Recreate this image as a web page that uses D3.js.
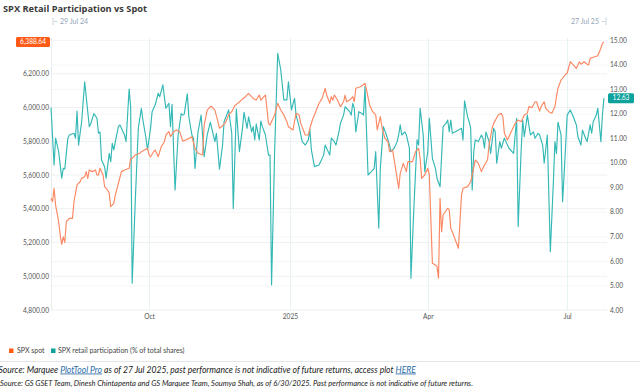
<!DOCTYPE html>
<html><head><meta charset="utf-8">
<script src="https://cdn.jsdelivr.net/npm/d3@7"></script>
<style>body{margin:0;background:#fff}svg{display:block}</style>
</head><body><svg id="c" width="640" height="391"></svg>
<script>
const spotDates = ["2024-07-29","2024-07-30","2024-07-31","2024-08-01","2024-08-03","2024-08-04","2024-08-05","2024-08-06","2024-08-07","2024-08-08","2024-08-10","2024-08-12","2024-08-13","2024-08-15","2024-08-17","2024-08-18","2024-08-20","2024-08-21","2024-08-22","2024-08-23","2024-08-25","2024-08-27","2024-08-28","2024-08-29","2024-08-30","2024-09-01","2024-09-02","2024-09-04","2024-09-05","2024-09-06","2024-09-08","2024-09-09","2024-09-11","2024-09-13","2024-09-15","2024-09-18","2024-09-19","2024-09-20","2024-09-22","2024-09-25","2024-09-26","2024-09-28","2024-09-30","2024-10-01","2024-10-02","2024-10-04","2024-10-05","2024-10-06","2024-10-07","2024-10-09","2024-10-11","2024-10-12","2024-10-14","2024-10-15","2024-10-17","2024-10-19","2024-10-21","2024-10-23","2024-10-25","2024-10-27","2024-10-29","2024-10-31","2024-11-02","2024-11-05","2024-11-06","2024-11-08","2024-11-10","2024-11-11","2024-11-13","2024-11-15","2024-11-16","2024-11-18","2024-11-20","2024-11-22","2024-11-24","2024-11-26","2024-11-28","2024-12-01","2024-12-03","2024-12-05","2024-12-06","2024-12-08","2024-12-10","2024-12-12","2024-12-13","2024-12-15","2024-12-16","2024-12-18","2024-12-19","2024-12-21","2024-12-22","2024-12-24","2024-12-26","2024-12-28","2024-12-30","2024-12-31","2025-01-03","2025-01-05","2025-01-07","2025-01-08","2025-01-11","2025-01-13","2025-01-14","2025-01-16","2025-01-17","2025-01-20","2025-01-22","2025-01-24","2025-01-25","2025-01-27","2025-01-28","2025-01-29","2025-01-30","2025-02-01","2025-02-03","2025-02-05","2025-02-06","2025-02-07","2025-02-09","2025-02-11","2025-02-12","2025-02-13","2025-02-16","2025-02-17","2025-02-19","2025-02-20","2025-02-22","2025-02-24","2025-02-26","2025-02-27","2025-03-01","2025-03-02","2025-03-04","2025-03-06","2025-03-07","2025-03-09","2025-03-12","2025-03-13","2025-03-14","2025-03-16","2025-03-18","2025-03-19","2025-03-22","2025-03-24","2025-03-26","2025-03-27","2025-03-28","2025-03-30","2025-04-01","2025-04-02","2025-04-04","2025-04-06","2025-04-07","2025-04-08","2025-04-09","2025-04-10","2025-04-11","2025-04-14","2025-04-15","2025-04-16","2025-04-17","2025-04-21","2025-04-22","2025-04-23","2025-04-24","2025-04-27","2025-04-29","2025-04-30","2025-05-02","2025-05-04","2025-05-06","2025-05-08","2025-05-10","2025-05-11","2025-05-13","2025-05-14","2025-05-17","2025-05-19","2025-05-20","2025-05-21","2025-05-23","2025-05-25","2025-05-27","2025-05-28","2025-05-30","2025-06-01","2025-06-03","2025-06-05","2025-06-06","2025-06-08","2025-06-10","2025-06-11","2025-06-13","2025-06-14","2025-06-16","2025-06-17","2025-06-19","2025-06-21","2025-06-23","2025-06-24","2025-06-25","2025-06-27","2025-06-30","2025-07-01","2025-07-03","2025-07-05","2025-07-07","2025-07-09","2025-07-10","2025-07-12","2025-07-14","2025-07-15","2025-07-16","2025-07-19","2025-07-21","2025-07-23","2025-07-24","2025-07-25"];
const spotValues = [5462,5442,5521,5422,5323,5244,5189,5234,5201,5323,5343,5343,5442,5541,5560,5580,5590,5620,5580,5630,5620,5630,5600,5600,5640,5600,5531,5511,5492,5412,5432,5481,5551,5620,5630,5640,5699,5699,5719,5729,5738,5748,5758,5719,5708,5738,5748,5729,5708,5768,5797,5837,5857,5827,5857,5867,5857,5801,5807,5817,5827,5758,5729,5719,5896,5985,6005,6005,5985,5916,5877,5892,5912,5956,5975,6011,6025,6050,6064,6084,6074,6054,6044,6074,6044,6064,6074,5906,5896,5936,5956,6025,5985,5956,5916,5886,5867,5966,5956,5906,5837,5837,5877,5936,5956,6025,6054,6114,6074,6025,6064,6044,6074,6044,6005,6034,6074,6034,6044,6064,6034,6114,6123,6129,6143,6104,6015,5975,5956,5867,5946,5886,5817,5797,5738,5748,5580,5521,5610,5669,5620,5679,5679,5738,5758,5699,5580,5600,5640,5600,5077,5067,5057,4988,5462,5264,5363,5403,5393,5284,5264,5166,5323,5481,5521,5531,5560,5600,5689,5669,5620,5659,5689,5778,5877,5906,5956,5966,5946,5847,5807,5847,5886,5906,5926,5916,5956,5966,6005,5999,6034,6034,5979,6005,6034,5995,5975,5966,6005,6064,6114,6163,6197,6203,6271,6252,6232,6271,6256,6271,6256,6252,6291,6301,6307,6351,6380,6388.64];

const partDates = ["2024-07-29","2024-07-31","2024-08-01","2024-08-03","2024-08-05","2024-08-06","2024-08-07","2024-08-09","2024-08-10","2024-08-13","2024-08-14","2024-08-15","2024-08-16","2024-08-18","2024-08-20","2024-08-23","2024-08-24","2024-08-26","2024-08-28","2024-08-29","2024-08-30","2024-08-31","2024-09-02","2024-09-03","2024-09-05","2024-09-06","2024-09-07","2024-09-08","2024-09-09","2024-09-11","2024-09-12","2024-09-15","2024-09-16","2024-09-18","2024-09-19","2024-09-20","2024-09-22","2024-09-24","2024-09-26","2024-09-27","2024-09-29","2024-09-30","2024-10-02","2024-10-03","2024-10-05","2024-10-07","2024-10-08","2024-10-10","2024-10-12","2024-10-14","2024-10-15","2024-10-16","2024-10-18","2024-10-20","2024-10-22","2024-10-23","2024-10-24","2024-10-26","2024-10-27","2024-10-29","2024-10-30","2024-10-31","2024-11-02","2024-11-04","2024-11-06","2024-11-08","2024-11-10","2024-11-12","2024-11-13","2024-11-14","2024-11-16","2024-11-18","2024-11-19","2024-11-22","2024-11-24","2024-11-25","2024-11-27","2024-11-29","2024-12-01","2024-12-02","2024-12-04","2024-12-05","2024-12-07","2024-12-08","2024-12-09","2024-12-10","2024-12-12","2024-12-13","2024-12-14","2024-12-16","2024-12-18","2024-12-19","2024-12-20","2024-12-22","2024-12-24","2024-12-26","2024-12-28","2024-12-30","2024-12-31","2025-01-02","2025-01-04","2025-01-05","2025-01-07","2025-01-09","2025-01-11","2025-01-13","2025-01-14","2025-01-15","2025-01-17","2025-01-20","2025-01-21","2025-01-23","2025-01-24","2025-01-27","2025-01-28","2025-01-30","2025-01-31","2025-02-02","2025-02-03","2025-02-05","2025-02-06","2025-02-09","2025-02-10","2025-02-11","2025-02-12","2025-02-13","2025-02-15","2025-02-17","2025-02-18","2025-02-19","2025-02-21","2025-02-23","2025-02-25","2025-02-26","2025-02-28","2025-03-01","2025-03-03","2025-03-05","2025-03-07","2025-03-08","2025-03-10","2025-03-12","2025-03-13","2025-03-14","2025-03-15","2025-03-17","2025-03-18","2025-03-19","2025-03-20","2025-03-21","2025-03-23","2025-03-25","2025-03-26","2025-03-27","2025-03-29","2025-03-30","2025-04-01","2025-04-02","2025-04-04","2025-04-06","2025-04-07","2025-04-09","2025-04-11","2025-04-13","2025-04-14","2025-04-15","2025-04-16","2025-04-17","2025-04-19","2025-04-21","2025-04-23","2025-04-24","2025-04-25","2025-04-27","2025-04-28","2025-04-29","2025-04-30","2025-05-01","2025-05-02","2025-05-04","2025-05-06","2025-05-07","2025-05-08","2025-05-09","2025-05-11","2025-05-12","2025-05-14","2025-05-15","2025-05-16","2025-05-18","2025-05-19","2025-05-21","2025-05-22","2025-05-24","2025-05-27","2025-05-29","2025-05-30","2025-06-01","2025-06-02","2025-06-03","2025-06-05","2025-06-07","2025-06-09","2025-06-10","2025-06-12","2025-06-13","2025-06-15","2025-06-16","2025-06-18","2025-06-20","2025-06-22","2025-06-23","2025-06-24","2025-06-25","2025-06-27","2025-06-28","2025-06-29","2025-07-01","2025-07-03","2025-07-05","2025-07-07","2025-07-08","2025-07-10","2025-07-11","2025-07-13","2025-07-14","2025-07-16","2025-07-17","2025-07-18","2025-07-20","2025-07-21","2025-07-23","2025-07-24","2025-07-25"];
const partValues = [12.25,9.91,11.0,10.45,9.37,9.77,9.75,11.0,11.13,11.2,11.0,12.1,10.72,11.67,13.3,11.47,11.6,12.0,11.81,11.2,11.25,10.11,9.84,9.37,10.38,10.04,10.79,10.52,10.86,11.47,11.54,11.13,10.86,13.0,12.28,5.09,8.41,11.4,12.22,11.74,11.0,10.52,11.4,12.08,12.35,12.83,12.69,13.17,12.22,12.42,11.47,12.38,8.89,11.13,12.0,11.94,11.98,12.81,11.87,11.13,11.0,9.77,11.26,11.94,10.25,11.13,11.65,11.13,10.86,11.2,9.74,10.72,11.67,12.15,11.2,8.14,12.19,10.45,11.4,12.05,11.4,11.87,11.26,11.47,10.93,11.57,10.93,11.7,11.47,11.13,10.31,10.31,5.02,10.45,14.46,13.78,12.56,12.56,13.3,12.15,12.62,11.94,11.47,10.86,10.72,10.93,11.37,10.52,9.84,9.91,10.04,10.31,10.72,10.31,11.0,10.86,10.72,11.26,11.61,11.94,12.28,12.08,11.94,12.42,12.22,11.26,12.08,12.01,11.94,13.1,9.5,9.63,9.77,10.45,7.33,9.77,11.47,11.13,10.72,10.45,10.59,10.86,11.13,11.54,11.13,11.26,11.13,10.86,10.59,5.29,8.28,10.93,10.72,12.22,11.13,9.63,10.45,11.81,10.18,9.77,9.37,9.02,11.47,11.61,11.74,11.26,11.74,11.2,11.26,11.33,11.4,10.93,12.52,11.87,11.67,11.4,8.89,10.45,10.93,10.86,11.13,11.0,10.59,11.26,10.86,10.38,11.4,11.26,9.98,10.86,10.59,11.0,10.86,10.59,10.38,11.81,7.4,10.59,11.74,11.06,11.94,11.13,11.26,11.0,11.2,11.13,10.72,9.98,11.13,6.38,9.23,10.86,10.38,11.65,11.13,8.41,9.5,11.94,12.15,11.87,11.54,11.06,10.72,11.33,11.0,10.86,11.54,11.2,11.67,11.94,12.22,10.86,11.94,12.63];

const leftTicks = [4800,5000,5200,5400,5600,5800,6000,6200];
const rightTicks = [4,5,6,7,8,9,10,11,12,13,14,15];
const xTickDates = ["2024-10-01","2025-01-01","2025-04-01","2025-07-01"];
const xTickLabels = ["Oct","2025","Apr","Jul"];
const domainStart = "2024-07-29", domainEnd = "2025-07-27";
const startLabel = "29 Jul 24", endLabel = "27 Jul 25";
const seriesNames = ["SPX spot","SPX retail participation (% of total shares)"];
const title = "SPX Retail Participation vs Spot";

const parse = d3.timeParse("%Y-%m-%d");
const spot = spotDates.map((d,i)=>({date:parse(d), v:spotValues[i]}));
const part = partDates.map((d,i)=>({date:parse(d), v:partValues[i]}));

const ORANGE = "#fb8862", ORANGE_TAG = "#ff5b17", TEAL = "#33b8b5", TEAL_TAG = "#0ea29c";
const svg = d3.select("#c");
const FONT = "Lato, 'Open Sans', sans-serif";

const x = d3.scaleTime().domain([parse(domainStart), parse(domainEnd)]).range([51, 607]);
const yL = d3.scaleLinear().domain([4800, 6400]).range([310, 40]);
const yR = d3.scaleLinear().domain([4, 15]).range([310, 40]);

// gridlines
const grid = svg.append("g");
grid.selectAll("line.gl").data(leftTicks).join("line")
  .attr("x1", 51).attr("x2", 607).attr("y1", d=>yL(d)).attr("y2", d=>yL(d))
  .attr("stroke", "#eef0f2").attr("stroke-width", 1);
grid.selectAll("line.gr").data(rightTicks).join("line")
  .attr("x1", 51).attr("x2", 607).attr("y1", d=>yR(d)+0.5).attr("y2", d=>yR(d)+0.5)
  .attr("stroke", "#f5f6f7").attr("stroke-width", 1);
grid.selectAll("line.gv").data(xTickDates).join("line")
  .attr("x1", d=>Math.round(x(parse(d)))+0.5).attr("x2", d=>Math.round(x(parse(d)))+0.5)
  .attr("y1", 38).attr("y2", 310)
  .attr("stroke", "#e8f1f3").attr("stroke-width", 1);
svg.append("line").attr("x1",51.5).attr("x2",51.5).attr("y1",38).attr("y2",310).attr("stroke","#e8eef0");

// axes
const axL = svg.append("g").attr("transform","translate(51,0)")
  .call(d3.axisLeft(yL).tickValues(leftTicks).tickFormat(d3.format(",.2f")).tickSize(0).tickPadding(2));
const axR = svg.append("g").attr("transform","translate(607,0)")
  .call(d3.axisRight(yR).tickValues(rightTicks).tickFormat(d3.format(".2f")).tickSize(0).tickPadding(3));
const axX = svg.append("g").attr("transform","translate(0,310)")
  .call(d3.axisBottom(x).tickValues(xTickDates.map(parse)).tickFormat((d,i)=>xTickLabels[i]).tickSize(0).tickPadding(4));
[axL, axR, axX].forEach(a=>{
  a.select(".domain").remove();
  a.selectAll("text").attr("fill","#555").style("font-family",FONT).style("font-size","6.6px");
});

// lines
const lineL = d3.line().x(d=>x(d.date)).y(d=>yL(d.v));
const lineR = d3.line().x(d=>x(d.date)).y(d=>yR(d.v));
svg.append("path").datum(part).attr("d", lineR).attr("fill","none")
  .attr("stroke", TEAL).attr("stroke-width",1.15).attr("stroke-linejoin","round");
svg.append("path").datum(spot).attr("d", lineL).attr("fill","none")
  .attr("stroke", ORANGE).attr("stroke-width",1.15).attr("stroke-linejoin","round");

// value tags
const lastSpot = spot[spot.length-1], lastPart = part[part.length-1];
svg.append("rect").attr("x",16).attr("y",yL(lastSpot.v)-5).attr("width",34).attr("height",10).attr("rx",1.5).attr("fill",ORANGE_TAG);
svg.append("text").attr("x",33).attr("y",yL(lastSpot.v)+2.3).attr("text-anchor","middle")
  .attr("fill","#fff").style("font-family",FONT).style("font-size","6.6px").text(d3.format(",.2f")(lastSpot.v));
svg.append("rect").attr("x",608).attr("y",yR(lastPart.v)-5).attr("width",26).attr("height",10).attr("rx",1.5).attr("fill",TEAL_TAG);
svg.append("text").attr("x",621).attr("y",yR(lastPart.v)+2.3).attr("text-anchor","middle")
  .attr("fill","#fff").style("font-family",FONT).style("font-size","6.6px").text(d3.format(".2f")(lastPart.v));

// title
svg.append("text").attr("x",3).attr("y",12).attr("fill","#3a3a3a")
  .style("font-family","'Open Sans', sans-serif").style("font-weight","700").style("font-size","9.2px")
  .attr("textLength",144).attr("lengthAdjust","spacingAndGlyphs").text(title);

// range labels
const rl = svg.append("g").attr("fill","#93a5b7").style("font-family",FONT).style("font-size","7px");
rl.append("text").attr("x",52).attr("y",24).text("|–");
rl.append("text").attr("x",60).attr("y",24).text(startLabel);
rl.append("text").attr("x",599).attr("y",24).attr("text-anchor","end").text(endLabel);
rl.append("text").attr("x",601).attr("y",24).text("–|");

// legend
const lg = svg.append("g").style("font-family",FONT).style("font-size","7px").attr("fill","#444");
lg.append("rect").attr("x",9).attr("y",348.5).attr("width",4.5).attr("height",4.5).attr("fill",ORANGE_TAG);
lg.append("text").attr("x",17).attr("y",353.3).text(seriesNames[0]);
lg.append("rect").attr("x",51).attr("y",348.5).attr("width",4.5).attr("height",4.5).attr("fill",TEAL_TAG);
lg.append("text").attr("x",58).attr("y",353.3).text(seriesNames[1]);

svg.append("line").attr("x1",0).attr("x2",640).attr("y1",361.5).attr("y2",361.5).attr("stroke","#e3e6e8");

// sources
const s1 = svg.append("text").attr("x",-1.5).attr("y",372.5).attr("fill","#222")
  .style("font-family","Lato, sans-serif").style("font-style","italic").style("font-size","9.2px");
s1.append("tspan").text("Source: Marquee ");
s1.append("tspan").attr("fill","#2a6aa6").attr("text-decoration","underline").text("PlotTool Pro");
s1.append("tspan").text(" as of 27 Jul 2025, past performance is not indicative of future returns, access plot ");
s1.append("tspan").attr("fill","#2a6aa6").attr("text-decoration","underline").text("HERE");
const s2 = svg.append("text").attr("x",0).attr("y",386).attr("fill","#222")
  .style("font-family","Lato, sans-serif").style("font-style","italic").style("font-size","8px")
  .text("Source: GS GSET Team, Dinesh Chintapenta and GS Marquee Team, Soumya Shah, as of 6/30/2025. Past performance is not indicative of future returns.");
function fit(t, w){ const l = t.node().getComputedTextLength(); const fs = parseFloat(t.style("font-size")); t.style("font-size",(fs*w/l)+"px"); }
fit(s1, 417); fit(s2, 474);
</script></body></html>
